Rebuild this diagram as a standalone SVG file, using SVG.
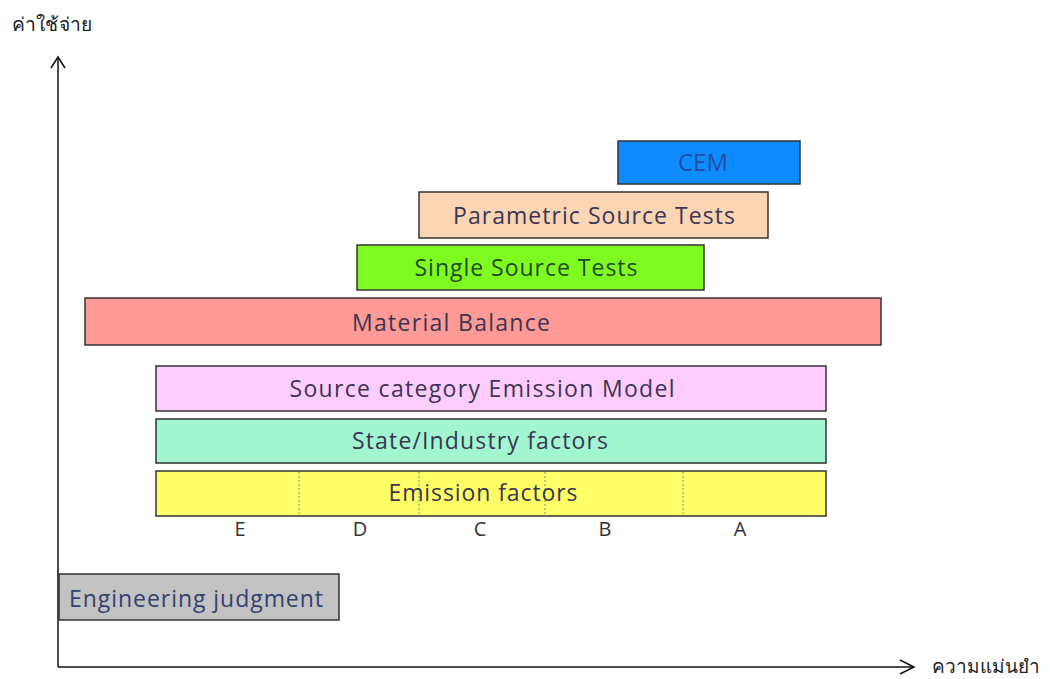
<svg xmlns="http://www.w3.org/2000/svg" width="1050" height="679" viewBox="0 0 1050 679">
<style>
.box{stroke:#333;stroke-width:1.5}
.t{font-family:"Open Sans","Noto Sans",sans-serif;font-size:23px;fill:#3a3550;text-anchor:middle}
.ax{stroke:#111;stroke-width:1.5;fill:none}
.lbl{font-family:"Noto Sans","DejaVu Sans",sans-serif;font-size:19px;fill:#222}
.dot{stroke:#888;stroke-width:1;stroke-dasharray:2 2}
.ltr{font-family:"Open Sans","Noto Sans",sans-serif;font-size:20px;fill:#333;text-anchor:middle}
</style>
<rect width="1050" height="679" fill="#fff"/>
<g id="axes">
<line class="ax" x1="58" y1="57" x2="58" y2="667"/>
<polyline class="ax" points="51,68 58,57 65,68"/>
<line class="ax" x1="58" y1="667" x2="914" y2="667"/>
<polyline class="ax" points="900,660 914,667 900,674"/>
<text class="lbl" x="12" y="31" textLength="80" lengthAdjust="spacingAndGlyphs">ค่าใช้จ่าย</text>
<text class="lbl" x="932" y="673" textLength="108" lengthAdjust="spacingAndGlyphs">ความแม่นยำ</text>
</g>
<g id="cem">
<rect class="box" x="618" y="141" width="182" height="43" fill="#0d8bff"/>
<text class="t" x="703" y="171" textLength="50" lengthAdjust="spacingAndGlyphs" style="fill:#1f4da0">CEM</text>
</g>
<g id="parametric">
<rect class="box" x="419" y="192" width="349" height="46" fill="#fcd5b5"/>
<text class="t" x="594" y="224" textLength="282">Parametric Source Tests</text>
</g>
<g id="single">
<rect class="box" x="357" y="245" width="347" height="45" fill="#80fb22"/>
<text class="t" x="526" y="276" textLength="223" style="fill:#1f4a22">Single Source Tests</text>
</g>
<g id="material">
<rect class="box" x="85" y="298" width="796" height="47" fill="#ff9a97"/>
<text class="t" x="451" y="331" textLength="198">Material Balance</text>
</g>
<g id="sourcecat">
<rect class="box" x="156" y="366" width="670" height="45" fill="#ffccff"/>
<text class="t" x="482" y="397" textLength="385">Source category Emission Model</text>
</g>
<g id="state">
<rect class="box" x="156" y="419" width="670" height="44" fill="#a2f7d2"/>
<text class="t" x="480" y="449" textLength="256">State/Industry factors</text>
</g>
<g id="emission">
<rect class="box" x="156" y="471" width="670" height="45" fill="#ffff66"/>
<line class="dot" x1="299" y1="472" x2="299" y2="515"/>
<line class="dot" x1="419" y1="472" x2="419" y2="515"/>
<line class="dot" x1="545" y1="472" x2="545" y2="515"/>
<line class="dot" x1="683" y1="472" x2="683" y2="515"/>
<text class="t" x="483" y="501" textLength="189">Emission factors</text>
<text class="ltr" x="240" y="536">E</text>
<text class="ltr" x="360" y="536">D</text>
<text class="ltr" x="480" y="536">C</text>
<text class="ltr" x="605" y="536">B</text>
<text class="ltr" x="740" y="536">A</text>
</g>
<g id="engineering">
<rect class="box" x="59" y="574" width="280" height="46" fill="#c3c3c3"/>
<text class="t" x="69" y="607" textLength="254" style="text-anchor:start;fill:#34406e">Engineering judgment</text>
</g>
</svg>
